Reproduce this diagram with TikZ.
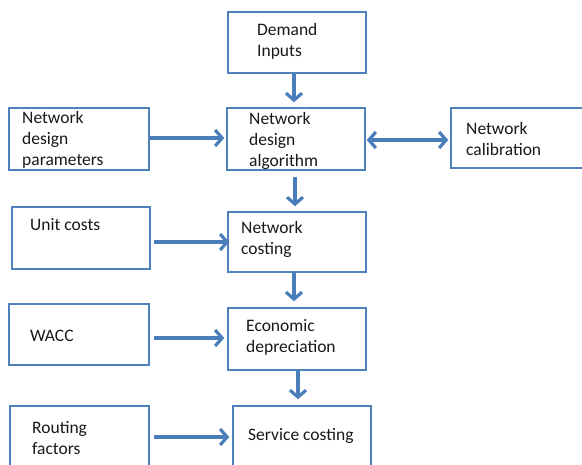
\documentclass[tikz,border=0pt]{standalone}
\usepackage{fontspec}
\setmainfont{Carlito}
\usetikzlibrary{arrows.meta}
\definecolor{boxblue}{RGB}{79,129,189}
\definecolor{arrblue}{RGB}{74,126,187}
\definecolor{txt}{RGB}{25,25,25}
\tikzset{
  box/.style={draw=boxblue, line width=1.5pt, rectangle, inner sep=0pt},
  lbl/.style={anchor=north west, inner sep=0pt, align=left, text=txt,
    font=\fontsize{17.5}{21}\selectfont},
  arr/.style={draw=arrblue, line width=3.2pt, -{Straight Barb[length=7pt,width=16pt]}},
  darr/.style={draw=arrblue, line width=3.2pt, {Straight Barb[length=7pt,width=16pt]}-{Straight Barb[length=7pt,width=16pt]}}
}
\begin{document}
\begin{tikzpicture}[x=1pt,y=-1pt]
\useasboundingbox (0,0) rectangle (582,464);
\clip (0,0) rectangle (582,464);
\fill[white] (0,0) rectangle (582,464);
% boxes
\node[box, minimum width=138pt, minimum height=61pt] (dem) at (297,42.5) {};
\node[box, minimum width=140pt, minimum height=62pt] (ndp) at (79,139) {};
\node[box, minimum width=138pt, minimum height=62pt] (nda) at (296,139) {};
\node[box, minimum width=133pt, minimum height=60pt] (cal) at (517.5,138) {};
\node[box, minimum width=138pt, minimum height=62pt] (uc) at (81,238) {};
\node[box, minimum width=138pt, minimum height=60pt] (nc) at (297,242) {};
\node[box, minimum width=140pt, minimum height=61pt] (wacc) at (79,334.5) {};
\node[box, minimum width=138pt, minimum height=62pt] (ed) at (297,339) {};
\node[box, minimum width=139pt, minimum height=64pt] (rf) at (79.5,438) {};
\node[box, minimum width=138pt, minimum height=64pt] (sc) at (302,438) {};
% labels
\node[lbl] (tdem) at (257,23) {Demand\\Inputs};
\node[lbl] (tndp) at (22,111) {Network\\design\\parameters};
\node[lbl] (tnda) at (249,112) {Network\\design\\algorithm};
\node[lbl] (tcal) at (466,122) {Network\\calibration};
\node[lbl] (tuc) at (30,218) {Unit costs};
\node[lbl] (tnc) at (241,221) {Network\\costing};
\node[lbl] (twacc) at (30,330) {WACC};
\node[lbl] (ted) at (246,319) {Economic\\depreciation};
\node[lbl] (trf) at (32,421) {Routing\\factors};
\node[lbl] (tsc) at (248,428) {Service costing};
% vertical arrows
\draw[arr] ([xshift=-3pt]dem.south) -- ([xshift=-2pt,yshift=5pt]nda.north);
\draw[arr] ([xshift=-1pt,yshift=-6pt]nda.south) -- ([xshift=-2pt,yshift=5pt]nc.north);
\draw[arr] ([xshift=-3pt]nc.south) -- ([xshift=-3pt,yshift=6pt]ed.north);
\draw[arr] ([xshift=1pt]ed.south) -- ([xshift=-4pt,yshift=6pt]sc.north);
% horizontal arrows
\draw[arr] ([yshift=1pt]ndp.east) -- ([xshift=-2pt,yshift=1pt]nda.west);
\draw[darr] ([xshift=1pt,yshift=-1pt]nda.east) -- ([xshift=-2pt,yshift=-2pt]cal.west);
\draw[arr] ([xshift=3pt,yshift=-4pt]uc.east) -- ([xshift=2pt]nc.west);
\draw[arr] ([xshift=4pt,yshift=1pt]wacc.east |- ed.west) -- ([xshift=-3pt,yshift=1pt]ed.west);
\draw[arr] ([xshift=4pt,yshift=1pt]rf.east) -- ([xshift=-3pt,yshift=1pt]sc.west);
\end{tikzpicture}
\end{document}
